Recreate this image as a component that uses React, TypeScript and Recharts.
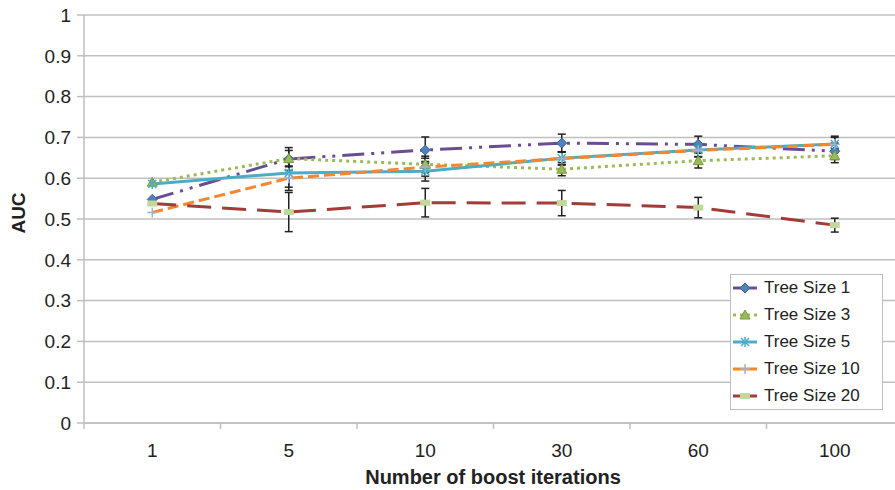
import { CartesianGrid, ErrorBar, Legend, Line, LineChart, XAxis, YAxis } from 'recharts'

const FONT = '"Liberation Sans", Arial, Helvetica, sans-serif'

const iterations = ['1', '5', '10', '30', '60', '100']
const yTicks = [0, 0.1, 0.2, 0.3, 0.4, 0.5, 0.6, 0.7, 0.8, 0.9, 1]

const size1 = [0.548, 0.647, 0.669, 0.686, 0.683, 0.666]
const size3 = [0.590, 0.648, 0.634, 0.622, 0.643, 0.655]
const size5 = [0.586, 0.613, 0.617, 0.649, 0.669, 0.684]
const size10 = [0.516, 0.600, 0.627, 0.648, 0.668, 0.683]
const size20 = [0.538, 0.517, 0.540, 0.539, 0.528, 0.485]

const err1 = [0, 0.028, 0.032, 0.022, 0.02, 0.02]
const err3 = [0, 0.02, 0.02, 0.016, 0.018, 0.017]
const err5 = [0, 0.035, 0.024, 0.016, 0.016, 0.016]
const err10 = [0, 0.03, 0.022, 0.016, 0.016, 0.02]
const err20 = [0, 0.048, 0.035, 0.031, 0.025, 0.017]

const data = iterations.map((it, i) => ({
  it,
  s1: size1[i],
  s3: size3[i],
  s5: size5[i],
  s10: size10[i],
  s20: size20[i],
  e1: err1[i],
  e3: err3[i],
  e5: err5[i],
  e10: err10[i],
  e20: err20[i],
}))

const PLOT_W = 819
const BAND = PLOT_W / iterations.length

type Marker = 'diamond' | 'triangle' | 'star' | 'plus' | 'bar'

interface SeriesDef {
  key: string
  err: string
  name: string
  color: string
  dash?: string
  marker: Marker
}

const series: SeriesDef[] = [
  { key: 's1', err: 'e1', name: 'Tree Size 1', color: '#6A4C93', dash: '22 7 3 7 3 7', marker: 'diamond' },
  { key: 's3', err: 'e3', name: 'Tree Size 3', color: '#9BBB59', dash: '3 4', marker: 'triangle' },
  { key: 's5', err: 'e5', name: 'Tree Size 5', color: '#4BACC6', marker: 'star' },
  { key: 's10', err: 'e10', name: 'Tree Size 10', color: '#F7862E', dash: '11 5', marker: 'plus' },
  { key: 's20', err: 'e20', name: 'Tree Size 20', color: '#A33B38', dash: '24 11', marker: 'bar' },
]

function drawMarker(kind: Marker, cx: number, cy: number, color: string, key?: string | number) {
  switch (kind) {
    case 'diamond':
      return (
        <polygon
          key={key}
          points={`${cx},${cy - 5} ${cx + 5},${cy} ${cx},${cy + 5} ${cx - 5},${cy}`}
          fill="#4F81BD"
          stroke="#3A6599"
          strokeWidth={1}
        />
      )
    case 'triangle':
      return (
        <polygon
          key={key}
          points={`${cx},${cy - 5} ${cx + 5},${cy + 4} ${cx - 5},${cy + 4}`}
          fill="#9BBB59"
          stroke="#7A9A3C"
          strokeWidth={1}
        />
      )
    case 'star':
      return (
        <g key={key} stroke={color} strokeWidth={1.5}>
          <line x1={cx - 4} y1={cy - 4} x2={cx + 4} y2={cy + 4} />
          <line x1={cx - 4} y1={cy + 4} x2={cx + 4} y2={cy - 4} />
          <line x1={cx} y1={cy - 5} x2={cx} y2={cy + 5} />
        </g>
      )
    case 'plus':
      return (
        <g key={key} stroke="#9DB3D6" strokeWidth={1.5}>
          <line x1={cx - 5} y1={cy} x2={cx + 5} y2={cy} />
          <line x1={cx} y1={cy - 5} x2={cx} y2={cy + 5} />
        </g>
      )
    default:
      return <rect key={key} x={cx - 5} y={cy - 3} width={10} height={6} fill="#C3D69B" />
  }
}

function XTick(props: any) {
  const { x, y, payload, index } = props
  return (
    <g>
      <line x1={x - BAND / 2} y1={y} x2={x - BAND / 2} y2={y + 6} stroke="#BFBFBF" strokeWidth={1.5} />
      {index === iterations.length - 1 && (
        <line x1={x + BAND / 2} y1={y} x2={x + BAND / 2} y2={y + 6} stroke="#BFBFBF" strokeWidth={1.5} />
      )}
      <text x={x} y={y + 27} textAnchor="middle" dominantBaseline="central" fontSize={19} fill="#222" fontFamily={FONT}>
        {payload.value}
      </text>
    </g>
  )
}

function LegendBox() {
  return (
    <div
      style={{
        width: 151,
        height: 134,
        border: '1.5px solid #BFBFBF',
        background: '#fff',
        fontFamily: FONT,
        fontSize: 17,
        color: '#222',
      }}
    >
      {series.map((s) => (
        <div key={s.key} style={{ height: 26.8, display: 'flex', alignItems: 'center' }}>
          <svg width={24} height={14} style={{ marginLeft: 2, marginRight: 7 }}>
            <line
              x1={0}
              y1={7}
              x2={24}
              y2={7}
              stroke={s.color}
              strokeWidth={3}
              strokeDasharray={s.marker === 'triangle' ? '3 4' : undefined}
            />
            {drawMarker(s.marker, 12, 7, s.color)}
          </svg>
          <span>{s.name}</span>
        </div>
      ))}
    </div>
  )
}

export default function App() {
  return (
    <div style={{ position: 'absolute', left: 0, top: 0, width: 895, height: 490, overflow: 'hidden', background: '#fff' }}>
      <LineChart width={910} height={490} data={data} margin={{ top: 15, right: 7, bottom: 0, left: 0 }}>
        <CartesianGrid vertical={false} stroke="#BFBFBF" strokeWidth={1.5} />
        <XAxis
          dataKey="it"
          height={67}
          padding={{ left: BAND / 2, right: BAND / 2 }}
          axisLine={{ stroke: '#BFBFBF', strokeWidth: 1.5 }}
          tickLine={false}
          tickSize={0}
          tickMargin={0}
          tick={<XTick />}
          interval={0}
          label={{
            content: () => (
              <text x={493} y={477} textAnchor="middle" dominantBaseline="central" fontSize={20} fontWeight="bold" fill="#222" fontFamily={FONT}>
                Number of boost iterations
              </text>
            ),
          }}
        />
        <YAxis
          width={84}
          domain={[0, 1]}
          ticks={yTicks}
          interval={0}
          axisLine={{ stroke: '#BFBFBF', strokeWidth: 1.5 }}
          tickLine={{ stroke: '#BFBFBF', strokeWidth: 1.5 }}
          tickSize={7}
          tickMargin={6}
          tick={{ fontSize: 19, fill: '#222', fontFamily: FONT }}
          label={{
            content: () => (
              <text x={18} y={213} transform="rotate(-90 18 213)" textAnchor="middle" dominantBaseline="central" fontSize={19} fontWeight="bold" fill="#222" fontFamily={FONT}>
                AUC
              </text>
            ),
          }}
        />
        <Legend
          layout="vertical"
          align="center"
          verticalAlign="middle"
          content={() => <LegendBox />}
          wrapperStyle={{ left: 730, top: 274, width: 154, height: 137 }}
        />
        {series.map((s) => (
          <Line
            key={s.key}
            type="linear"
            dataKey={s.key}
            name={s.name}
            stroke={s.color}
            strokeWidth={3}
            strokeDasharray={s.dash}
            isAnimationActive={false}
            dot={(p: any) => drawMarker(s.marker, p.cx, p.cy, s.color, `${s.key}-${p.index}`)}
            activeDot={false}
          >
            <ErrorBar dataKey={s.err} width={4} stroke="#222" strokeWidth={1.5} direction="y" />
          </Line>
        ))}
      </LineChart>
    </div>
  )
}
